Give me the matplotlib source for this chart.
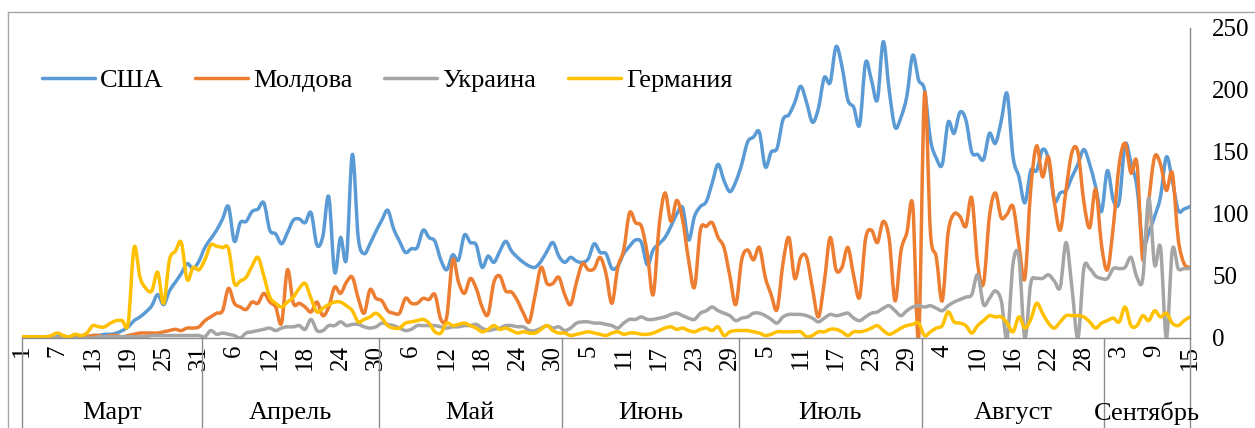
import numpy as np
import pandas as pd
import matplotlib
matplotlib.use('Agg')
import matplotlib.pyplot as plt
from matplotlib.lines import Line2D
from matplotlib.path import Path
from matplotlib.patches import PathPatch

# daily values, 1 March - 15 September
dates = pd.date_range('2020-03-01', '2020-09-15', freq='D')
months = ['Март', 'Апрель', 'Май', 'Июнь', 'Июль', 'Август', 'Сентябрь']
names = ['США', 'Молдова', 'Украина', 'Германия']

usa = [
    # март
    0, 0, 0, 0, 0, 0, 1, 1, 0, 0, 1, 1, 2, 2, 3, 3, 4, 6, 9, 14, 17, 21, 26, 35, 27, 38, 45, 52, 60, 56, 62,
    # апрель
    73, 80, 87, 96, 106, 78, 93, 94, 102, 104, 109, 87, 84, 76, 85, 95, 96, 93, 101, 75, 82, 114, 53, 81, 64, 148, 81, 68, 76, 86,
    # май
    95, 103, 88, 78, 69, 72, 73, 87, 81, 78, 63, 55, 67, 63, 83, 77, 75, 57, 66, 61, 70, 78, 70, 65, 61, 58, 57, 62, 70, 77, 66,
    # июнь
    61, 65, 62, 61, 64, 76, 69, 68, 56, 58, 68, 74, 79, 77, 59, 71, 76, 81, 90, 100, 105, 79, 98, 106, 110, 125, 140, 127, 118, 126,
    # июль
    140, 158, 162, 166, 138, 150, 153, 176, 180, 190, 203, 190, 174, 185, 210, 206, 235, 219, 192, 186, 172, 222, 208, 192, 239, 200, 170, 178, 195, 228, 208,
    # август
    200, 160, 145, 140, 174, 165, 182, 176, 150, 148, 144, 165, 157, 175, 197, 146, 130, 109, 135, 135, 152, 144, 111, 117, 119, 130, 140, 152, 140, 122, 102,
    # сентябрь
    135, 111, 110, 156, 141, 122, 75, 85, 98, 114, 146, 127, 103, 104, 106,
]

moldova = [
    0, 0, 0, 0, 0, 0, 0, 0, 0, 1, 1, 1, 2, 2, 1, 2, 2, 1, 2, 3, 4, 4, 4, 4, 5, 6, 7, 6, 8, 8, 9,
    14, 17, 20, 22, 40, 28, 25, 23, 29, 28, 36, 29, 25, 12, 55, 28, 28, 25, 21, 29, 18, 25, 41, 36, 45, 49, 32, 20, 39, 32,
    30, 22, 20, 20, 32, 28, 28, 32, 31, 35, 15, 17, 63, 45, 36, 48, 40, 25, 19, 45, 50, 38, 37, 30, 20, 13, 35, 57, 44, 44, 49,
    35, 27, 45, 60, 55, 56, 65, 52, 28, 57, 71, 101, 93, 90, 68, 35, 90, 117, 94, 111, 95, 63, 41, 87, 90, 93, 81, 73, 50, 27,
    63, 71, 63, 73, 49, 35, 23, 60, 81, 48, 65, 65, 40, 17, 45, 81, 55, 57, 73, 50, 33, 80, 87, 77, 94, 80, 30, 70, 85, 107, 0,
    197, 85, 65, 30, 85, 100, 98, 90, 113, 60, 44, 98, 117, 97, 100, 106, 75, 48, 120, 155, 130, 146, 110, 87, 120, 150, 150, 110, 89, 120, 75,
    55, 90, 140, 157, 133, 141, 63, 110, 146, 140, 119, 133, 80, 60, 57,
]

ukraine = [
    0, 0, 0, 0, 0, 0, 0, 0, 0, 0, 0, 0, 0, 1, 1, 1, 1, 1, 1, 1, 1, 1, 2, 2, 2, 2, 2, 2, 2, 2, 2,
    1, 6, 3, 4, 3, 2, 0, 4, 5, 6, 7, 8, 6, 8, 9, 9, 10, 7, 15, 6, 6, 10, 10, 13, 10, 11, 11, 9, 8, 9,
    12, 11, 10, 8, 6, 7, 10, 10, 10, 10, 9, 8, 9, 9, 10, 10, 11, 8, 6, 7, 8, 10, 10, 9, 9, 6, 6, 8, 10, 8, 9,
    6, 8, 12, 13, 13, 12, 12, 11, 10, 8, 12, 15, 15, 17, 15, 15, 16, 17, 19, 20, 18, 16, 15, 20, 22, 25, 22, 20, 18, 14,
    16, 17, 20, 20, 18, 15, 12, 17, 19, 19, 19, 18, 16, 13, 16, 19, 18, 19, 20, 16, 14, 17, 20, 21, 24, 26, 22, 18, 22, 25, 26,
    25, 26, 24, 22, 26, 29, 31, 33, 35, 51, 27, 32, 38, 30, 0, 60, 65, 0, 44, 48, 48, 51, 46, 41, 77, 40, 0, 56, 56, 50, 48,
    48, 56, 56, 57, 65, 49, 48, 113, 59, 73, 0, 71, 56, 56, 56,
]

germany = [
    1, 1, 1, 1, 1, 2, 4, 2, 1, 3, 2, 4, 10, 9, 9, 12, 14, 14, 12, 73, 49, 40, 38, 53, 28, 63, 70, 77, 47, 57, 55,
    63, 75, 74, 73, 72, 44, 46, 49, 58, 65, 50, 33, 28, 25, 29, 33, 40, 44, 32, 21, 24, 27, 29, 29, 26, 22, 13, 15, 17, 20,
    16, 10, 8, 8, 12, 13, 14, 15, 12, 5, 4, 12, 10, 11, 12, 10, 8, 5, 7, 10, 7, 8, 6, 4, 5, 4, 4, 7, 10, 6, 4,
    4, 2, 3, 4, 5, 4, 3, 2, 4, 5, 3, 4, 4, 3, 3, 4, 6, 8, 9, 7, 8, 6, 5, 7, 8, 6, 9, 2, 5, 6,
    6, 6, 5, 4, 2, 3, 5, 5, 5, 5, 5, 1, 2, 5, 5, 7, 7, 5, 2, 5, 5, 6, 8, 10, 6, 3, 5, 8, 10, 11, 12,
    2, 5, 8, 10, 21, 13, 12, 10, 4, 10, 14, 18, 17, 17, 12, 5, 17, 8, 15, 28, 20, 12, 8, 13, 18, 18, 18, 17, 13, 8, 12,
    14, 16, 13, 25, 10, 10, 18, 14, 22, 17, 20, 12, 10, 14, 17,
]

colors = ['#5B9BD5', '#ED7D31', '#A5A5A5', '#FFC000']
axis_gray = '#8C8C8C'
line_w = 2.5


def smooth_path(xs, ys):
    # excel-like smoothed line: catmull-rom segments as cubic bezier curves
    xs = np.asarray(xs, float)
    ys = np.asarray(ys, float)
    n = len(xs)
    verts = [(xs[0], ys[0])]
    codes = [Path.MOVETO]
    for i in range(n - 1):
        i0 = max(i - 1, 0)
        i3 = min(i + 2, n - 1)
        c1 = (xs[i] + (xs[i + 1] - xs[i0]) / 6, ys[i] + (ys[i + 1] - ys[i0]) / 6)
        c2 = (xs[i + 1] - (xs[i3] - xs[i]) / 6, ys[i + 1] - (ys[i3] - ys[i]) / 6)
        verts += [c1, c2, (xs[i + 1], ys[i + 1])]
        codes += [Path.CURVE4] * 3
    return Path(verts, codes)


plt.rcParams['font.family'] = ['Liberation Serif', 'DejaVu Serif']

fig = plt.figure(figsize=(12.55, 4.28), dpi=100)
ax = fig.add_axes([22 / 1255, 90 / 428, 1168 / 1255, 310 / 428])

x = np.arange(len(dates))
handles = []
for series, name, col in zip([usa, moldova, ukraine, germany], names, colors):
    patch = PathPatch(smooth_path(x, series), facecolor='none', edgecolor=col,
                      lw=line_w, joinstyle='round', capstyle='round')
    ax.add_patch(patch)
    handles.append(Line2D([], [], color=col, lw=line_w, solid_capstyle='round', label=name))

ax.set_xlim(0, len(dates) - 1)
ax.set_ylim(0, 250)

for side in ['top', 'left']:
    ax.spines[side].set_visible(False)
for side in ['bottom', 'right']:
    ax.spines[side].set_color(axis_gray)
    ax.spines[side].set_linewidth(1)

# values on the right side
ax.yaxis.tick_right()
ax.set_yticks(range(0, 251, 50))
ax.tick_params(axis='y', length=0, pad=16, labelsize=18)

# day numbers every 6 days
tick_idx = list(range(0, len(dates), 6))
ax.set_xticks(tick_idx)
ax.set_xticklabels([str(dates[i].day) for i in tick_idx], rotation=90)
ax.tick_params(axis='x', length=0, pad=5, labelsize=18)

# month row under the day numbers
trans = ax.get_xaxis_transform()
bounds = [0]
for m in range(3, 10):
    idx = np.where(dates.month == m)[0]
    bounds.append(idx[-1] + 0.5 if m < 9 else idx[-1])
for k, name in enumerate(months):
    ax.text((bounds[k] + bounds[k + 1]) / 2, -0.242, name, transform=trans,
            ha='center', va='center', fontsize=19)
for b in bounds:
    ax.plot([b, b], [0, -0.35], transform=trans, color=axis_gray, lw=1, clip_on=False)

ax.legend(handles=handles, ncol=4, loc='center left', bbox_to_anchor=(20 / 1168, 0.832),
          frameon=False, fontsize=19, handlelength=2.0, handletextpad=0.2,
          columnspacing=1.2, borderaxespad=0, borderpad=0)

# chart area border
fig.add_artist(Line2D([8 / 1255, 8 / 1255], [0, 1 - 12 / 428], color='#A6A6A6', lw=1))
fig.add_artist(Line2D([8 / 1255, 1], [1 - 12 / 428, 1 - 12 / 428], color='#A6A6A6', lw=1))

fig.savefig('out.png', dpi=100)
